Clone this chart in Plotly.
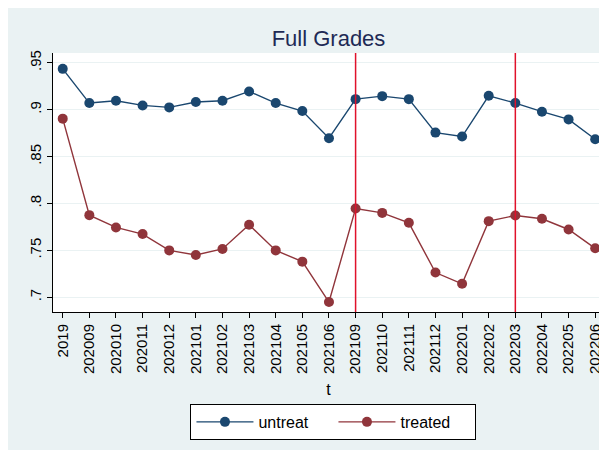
import plotly.graph_objects as go

periods = ["2019", "202009", "202010", "202011", "202012", "202101", "202102",
           "202103", "202104", "202105", "202106", "202109", "202110", "202111",
           "202112", "202201", "202202", "202203", "202204", "202205", "202206"]
untreat = [0.9436, 0.9071, 0.9096, 0.9046, 0.9025, 0.9082, 0.9096, 0.9195,
           0.9071, 0.8986, 0.8696, 0.9113, 0.9145, 0.9113, 0.8756, 0.8714,
           0.9149, 0.9071, 0.8979, 0.8897, 0.8685]
treated = [0.8905, 0.7876, 0.7745, 0.7674, 0.7500, 0.7451, 0.7515, 0.7773,
           0.7500, 0.7380, 0.6949, 0.7946, 0.7900, 0.7794, 0.7264, 0.7144,
           0.7812, 0.7872, 0.7837, 0.7723, 0.7522]
vline_periods = ["202109", "202203"]
y_ticks = [0.70, 0.75, 0.80, 0.85, 0.90, 0.95]
y_tick_text = [".7", ".75", ".8", ".85", ".9", ".95"]

xi = list(range(len(periods)))
BG = "#EAF2F3"
NAVY = "#1A476F"
MAROON = "#90353B"

fig = go.Figure()
fig.add_trace(go.Scatter(x=xi, y=untreat, mode="lines+markers", name="untreat",
                         line=dict(color=NAVY, width=1.4),
                         marker=dict(color=NAVY, size=10)))
fig.add_trace(go.Scatter(x=xi, y=treated, mode="lines+markers", name="treated",
                         line=dict(color=MAROON, width=1.4),
                         marker=dict(color=MAROON, size=10)))

for p in vline_periods:
    fig.add_shape(type="line", xref="x", yref="paper",
                  x0=periods.index(p), x1=periods.index(p), y0=0, y1=1,
                  line=dict(color="#E0112B", width=1.5), layer="above")

fig.update_layout(
    width=599, height=442,
    margin=dict(l=45, r=3, t=45, b=138),
    paper_bgcolor=BG, plot_bgcolor="white",
    font=dict(family="Liberation Sans, Arial, sans-serif", color="black"),
    title=dict(text="Full Grades", x=0.5, xref="paper", xanchor="center",
               y=1 - 30 / 442, yanchor="middle",
               font=dict(size=22, color="#1E2A55")),
    showlegend=True,
    legend=dict(orientation="h", x=0.509, xanchor="center", y=-0.355, yanchor="top",
                bgcolor="white", bordercolor="black", borderwidth=1,
                font=dict(size=16), itemwidth=57, entrywidthmode="pixels",
                entrywidth=70),
)
fig.update_xaxes(
    range=[-0.365, 20.33], tickmode="array", tickvals=xi, ticktext=periods,
    tickangle=-90, ticks="outside", ticklen=5, tickcolor="black",
    showline=True, linecolor="black", linewidth=1, showgrid=False, zeroline=False,
    tickfont=dict(size=15),
    title=dict(text="t", font=dict(size=16), standoff=10),
)
fig.update_yaxes(
    range=[0.6843, 0.9605], tickmode="array", tickvals=y_ticks, ticktext=y_tick_text,
    tickangle=-90, ticks="outside", ticklen=5, tickcolor="black",
    showline=True, linecolor="black", linewidth=1, showgrid=True, gridcolor=BG,
    gridwidth=1, zeroline=False, tickfont=dict(size=15),
)

fig.write_html("out.html")
